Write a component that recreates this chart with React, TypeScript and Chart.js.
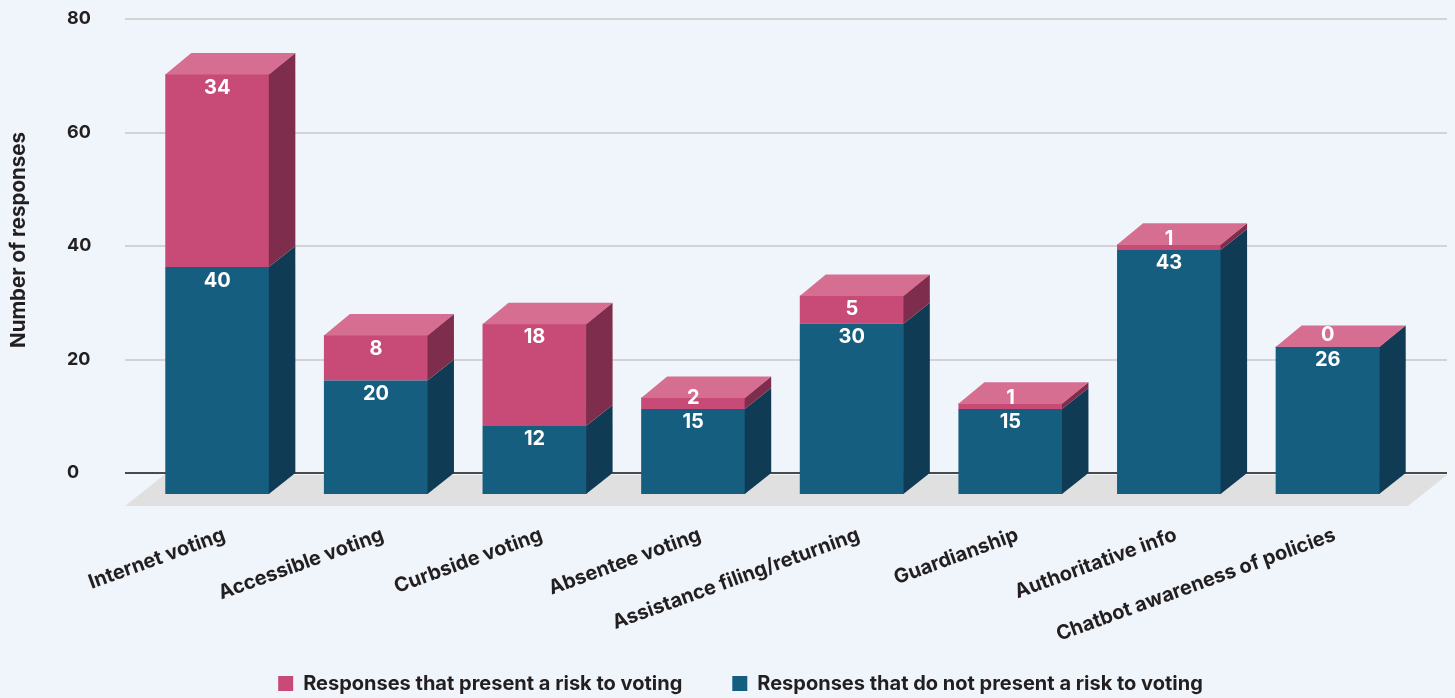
import { useEffect, useRef } from 'react';
import { Chart, registerables } from 'chart.js';

Chart.register(...registerables);

// ---------- data ----------
const categories = [
  'Internet voting',
  'Accessible voting',
  'Curbside voting',
  'Absentee voting',
  'Assistance filing/returning',
  'Guardianship',
  'Authoritative info',
  'Chatbot awareness of policies',
];
const noRiskValues = [40, 20, 12, 15, 30, 15, 43, 26];
const riskValues = [34, 8, 18, 2, 5, 1, 1, 0];
const yTickValues = [0, 20, 40, 60, 80];
const riskName = 'Responses that present a risk to voting';
const noRiskName = 'Responses that do not present a risk to voting';
const yTitle = 'Number of responses';

// ---------- style ----------
const FONT = 'Inter, "Noto Sans", sans-serif';
const TEXT = '#231F20';
const BG = '#EFF5FA';
const PINK_FRONT = '#C84A77';
const PINK_TOP = '#D66E92';
const PINK_SIDE = '#7E2D4C';
const BLUE_FRONT = '#165E80';
const BLUE_SIDE = '#0F3C54';
const FLOOR = '#E0E0E0';
const GRID = '#D3D3D3';
const ZERO = '#4A4A4A';

const SHIFT_X = -7;
const SHIFT_Y = 21;
const DEPTH_X = 26;
const DEPTH_Y = -21;

const CANVAS_W = 1439;
const CANVAS_H = 690;

function poly(ctx: CanvasRenderingContext2D, pts: number[][], color: string) {
  ctx.beginPath();
  ctx.moveTo(pts[0][0], pts[0][1]);
  for (let i = 1; i < pts.length; i++) ctx.lineTo(pts[i][0], pts[i][1]);
  ctx.closePath();
  ctx.fillStyle = color;
  ctx.fill();
}

export default function App() {
  const ref = useRef<HTMLCanvasElement>(null);

  useEffect(() => {
    document.body.style.background = BG;
    document.body.style.margin = '8px 8px 0 8px';
    document.body.style.overflow = 'hidden';
    const canvas = ref.current!;

    const box3d = {
      id: 'box3d',
      afterLayout(chart: any) {
        // let the rotated category labels extend below the axis box
        chart.scales.x.bottom = chart.height;
      },
      beforeDatasetsDraw(chart: any) {
        const { ctx, chartArea, scales } = chart;
        const ys = scales.y;
        const left = chartArea.left - 20;
        const right = chart.width;
        ctx.save();
        ys.ticks.forEach((t: any) => {
          if (t.value === 0) return;
          const py = Math.round(ys.getPixelForValue(t.value));
          ctx.beginPath();
          ctx.moveTo(left, py);
          ctx.lineTo(right, py);
          ctx.strokeStyle = GRID;
          ctx.lineWidth = 2;
          ctx.stroke();
        });
        const base = ys.getPixelForValue(0);
        const frontRight = chartArea.right - 6;
        poly(
          ctx,
          [
            [left, base + 33],
            [frontRight, base + 33],
            [frontRight + 39, base + 2],
            [left + 39, base + 2],
          ],
          FLOOR
        );
        ctx.beginPath();
        ctx.moveTo(left, Math.round(base));
        ctx.lineTo(right, Math.round(base));
        ctx.strokeStyle = ZERO;
        ctx.lineWidth = 2;
        ctx.stroke();
        ctx.restore();
        ctx.save();
        ctx.translate(SHIFT_X, SHIFT_Y);
      },
      afterDatasetsDraw(chart: any) {
        const { ctx } = chart;
        const metaBlue = chart.getDatasetMeta(0);
        const metaPink = chart.getDatasetMeta(1);
        const sides = [BLUE_SIDE, PINK_SIDE];
        [metaBlue, metaPink].forEach((meta: any, d: number) => {
          meta.data.forEach((el: any) => {
            const { x, y, base, width } = el.getProps(['x', 'y', 'base', 'width'], true);
            const r = x + width / 2;
            const top = Math.min(y, base);
            const bottom = Math.max(y, base);
            if (bottom - top > 0.1) {
              poly(
                ctx,
                [
                  [r - 0.5, top],
                  [r + DEPTH_X, top + DEPTH_Y],
                  [r + DEPTH_X, bottom + DEPTH_Y],
                  [r - 0.5, bottom],
                ],
                sides[d]
              );
            }
          });
        });
        metaPink.data.forEach((el: any) => {
          const { x, y, width } = el.getProps(['x', 'y', 'width'], true);
          const l = x - width / 2;
          const r = x + width / 2;
          poly(
            ctx,
            [
              [l, y + 0.5],
              [r, y + 0.5],
              [r + DEPTH_X, y + DEPTH_Y],
              [l + DEPTH_X, y + DEPTH_Y],
            ],
            PINK_TOP
          );
        });
        ctx.font = `bold 20px ${FONT}`;
        ctx.fillStyle = '#FFFFFF';
        ctx.textAlign = 'center';
        ctx.textBaseline = 'middle';
        [metaBlue, metaPink].forEach((meta: any, d: number) => {
          const values = d === 0 ? noRiskValues : riskValues;
          meta.data.forEach((el: any, i: number) => {
            const { x, y, base } = el.getProps(['x', 'y', 'base'], true);
            const top = Math.min(y, base);
            const bottom = Math.max(y, base);
            const ly = Math.min(top + 13.5, bottom - 11);
            ctx.fillText(String(values[i]), x, ly);
          });
        });
        ctx.restore();
      },
    };

    const yTitlePlugin = {
      id: 'yTitle',
      afterDraw(chart: any) {
        const { ctx } = chart;
        ctx.save();
        ctx.translate(11, 232);
        ctx.rotate(-Math.PI / 2);
        ctx.font = `bold 20.5px ${FONT}`;
        ctx.fillStyle = TEXT;
        ctx.textAlign = 'center';
        ctx.textBaseline = 'middle';
        ctx.fillText(yTitle, 0, 0);
        ctx.restore();
      },
    };

    const chart = new Chart(canvas, {
      type: 'bar',
      data: {
        labels: categories,
        datasets: [
          {
            label: noRiskName,
            data: noRiskValues,
            backgroundColor: BLUE_FRONT,
            borderWidth: 0,
            categoryPercentage: 1,
            barPercentage: 0.656,
            clip: false as any,
          },
          {
            label: riskName,
            data: riskValues,
            backgroundColor: PINK_FRONT,
            borderWidth: 0,
            categoryPercentage: 1,
            barPercentage: 0.656,
            clip: false as any,
          },
        ],
      },
      options: {
        responsive: false,
        animation: false,
        layout: { padding: { top: 11, left: 59, right: 33, bottom: -5.5 } },
        scales: {
          x: {
            stacked: true,
            grid: { display: false, drawTicks: false },
            border: { display: false },
            ticks: {
              autoSkip: false,
              minRotation: 20,
              maxRotation: 20,
              padding: 50,
              color: TEXT,
              font: { family: FONT, size: 20, weight: 'bold' },
            },
            afterFit: (s: any) => {
              s.height = 150.5;
            },
          },
          y: {
            stacked: true,
            min: 0,
            max: 80,
            grid: { display: false, drawTicks: false },
            border: { display: false },
            afterBuildTicks: (s: any) => {
              s.ticks = yTickValues.map((v) => ({ value: v }));
            },
            ticks: {
              crossAlign: 'far',
              padding: 0,
              color: TEXT,
              font: { family: FONT, size: 18, weight: 'bold' },
            },
            afterFit: (s: any) => {
              s.width = 78;
            },
          },
        },
        plugins: {
          legend: {
            position: 'bottom',
            reverse: true,
            labels: {
              boxWidth: 15,
              boxHeight: 15,
              padding: 50,
              color: TEXT,
              font: { family: FONT, size: 20, weight: 'bold' },
            },
          },
          tooltip: { enabled: false },
        },
      },
      plugins: [box3d, yTitlePlugin],
    });

    return () => chart.destroy();
  }, []);

  return (
    <div style={{ width: CANVAS_W, height: CANVAS_H }}>
      <canvas ref={ref} width={CANVAS_W} height={CANVAS_H} style={{ display: 'block' }} />
    </div>
  );
}
